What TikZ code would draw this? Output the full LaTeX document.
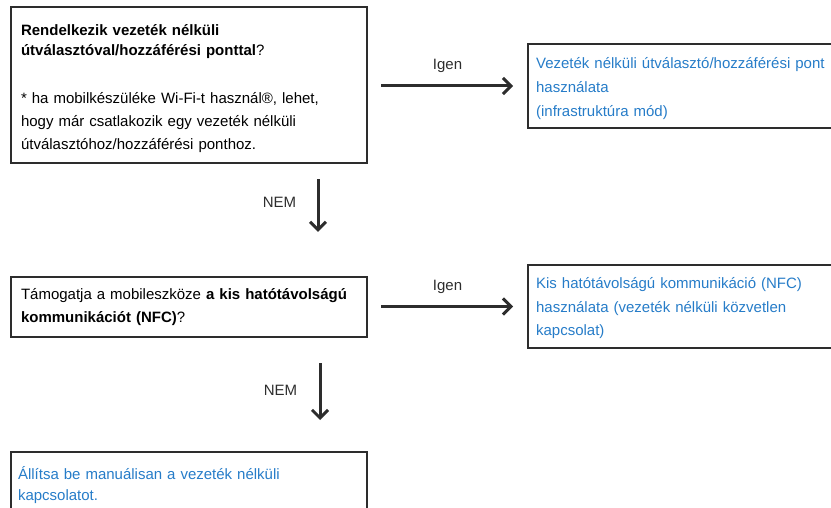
\documentclass[tikz,border=0pt]{standalone}
\usepackage{fontspec}
\setmainfont{Liberation Sans}
\usepackage{xcolor}
\usetikzlibrary{arrows.meta, positioning}
\definecolor{linkblue}{RGB}{38,124,200}
\definecolor{boxline}{RGB}{45,45,45}

\begin{document}
\begin{tikzpicture}[
    x=1pt, y=-1pt,
    q/.style={draw=boxline, line width=2.2pt, minimum width=356pt, text width=336pt, inner xsep=10pt, align=left, font=\fontsize{15}{23}\selectfont},
    ans/.style={draw=boxline, line width=2.2pt, minimum width=330pt, text width=314pt, inner xsep=8pt, align=left, text=linkblue, font=\fontsize{15}{23.5}\selectfont},
    yes/.style={line width=3pt, boxline, -{Straight Barb[length=8pt, width=16pt]}, shorten <=13pt, shorten >=14pt},
    no/.style={line width=3pt, boxline, -{Straight Barb[length=8pt, width=16pt]}},
    lbl/.style={font=\fontsize{15}{17}\selectfont}]
  \clip (0,0) rectangle (831,508);
  \node[q, minimum height=156pt, text height=19pt] (Q1) at (189,85) {\textbf{Rendelkezik vezeték nélküli}\\[-3pt]
    \textbf{útválasztóval/hozzáférési ponttal}?\\[25pt]
    * ha mobilkészüléke Wi-Fi-t használ®, lehet,\\
    hogy már csatlakozik egy vezeték nélküli\\
    útválasztóhoz/hozzáférési ponthoz.};
  \node[ans, minimum height=84pt, anchor=west, text height=17pt, font=\fontsize{15}{24}\selectfont] (A1) at (527,86) {Vezeték nélküli útválasztó/hozzáférési pont\\
    használata\\
    (infrastruktúra mód)};
  \node[q, minimum height=60pt] (Q2) at (189,307) {Támogatja a mobileszköze \textbf{a kis hatótávolságú}\\
    \textbf{kommunikációt (NFC)}?};
  \node[ans, minimum height=83pt, anchor=west, text height=15pt] (A2) at (527,306.5) {Kis hatótávolságú kommunikáció (NFC)\\
    használata (vezeték nélküli közvetlen\\
    kapcsolat)};
  \node[q, minimum height=66pt, anchor=north, inner xsep=7pt, text width=342pt, text=linkblue, font=\fontsize{15}{21.5}\selectfont] (A3) at (189,451) {Állítsa be manuálisan a vezeték nélküli\\
    kapcsolatot.};
  \draw[yes] (Q1.east |- A1.west) -- node[lbl, above=9pt]{Igen} (A1.west);
  \draw[yes] (Q2.east |- A2.west) -- node[lbl, above=8pt]{Igen} (A2.west);
  \draw[no, shorten <=15pt, shorten >=44pt] ([xshift=129pt]Q1.south) -- node[lbl, left=17pt, pos=0.34]{NEM} ([xshift=129pt]Q2.north);
  \draw[no, shorten <=25pt, shorten >=31pt] ([xshift=131pt]Q2.south) -- node[lbl, left=18pt, pos=0.46]{NEM} ([xshift=131pt]A3.north);
\end{tikzpicture}
\end{document}
